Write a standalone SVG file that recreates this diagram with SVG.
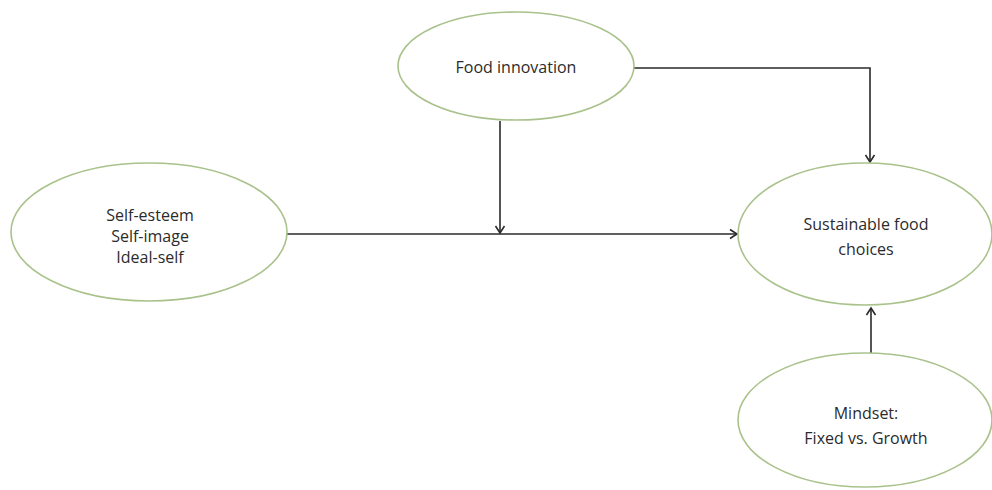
<svg xmlns="http://www.w3.org/2000/svg" width="992" height="490" viewBox="0 0 992 490">
  <style>
    .node ellipse { fill: #ffffff; stroke: #a9c28c; stroke-width: 1.6; }
    .node text { font-family: "Open Sans", "Noto Sans", "Liberation Sans", sans-serif; font-size: 16px; fill: #2b2b2b; text-anchor: middle; }
    .edge { fill: none; stroke: #2a2a2a; stroke-width: 1.6; }
  </style>
  <defs>
    <marker id="arrow" markerWidth="12" markerHeight="12" refX="10" refY="6" orient="auto" markerUnits="userSpaceOnUse">
      <polyline points="3,1.5 10,6 3,10.5" fill="none" stroke="#2a2a2a" stroke-width="1.6"/>
    </marker>
  </defs>
  <rect width="992" height="490" fill="#ffffff"/>

  <g id="connectors">
    <path class="edge" d="M634,68 H870 V162" marker-end="url(#arrow)"/>
    <path class="edge" d="M287,234 H737" marker-end="url(#arrow)"/>
    <path class="edge" d="M500,121 V233" marker-end="url(#arrow)"/>
    <path class="edge" d="M871,353 V308" marker-end="url(#arrow)"/>
  </g>

  <g id="food-innovation" class="node">
    <ellipse cx="516" cy="66" rx="118" ry="54"/>
    <text x="516" y="73">Food innovation</text>
  </g>

  <g id="self" class="node">
    <ellipse cx="149" cy="232" rx="138" ry="69"/>
    <text x="150" y="221">Self-esteem</text>
    <text x="150" y="242">Self-image</text>
    <text x="150" y="263">Ideal-self</text>
  </g>

  <g id="sustainable-food-choices" class="node">
    <ellipse cx="865" cy="234" rx="127" ry="71"/>
    <text x="866" y="230">Sustainable food</text>
    <text x="866" y="255">choices</text>
  </g>

  <g id="mindset" class="node">
    <ellipse cx="865" cy="420" rx="127" ry="67"/>
    <text x="866" y="419">Mindset:</text>
    <text x="866" y="444">Fixed vs. Growth</text>
  </g>
</svg>
